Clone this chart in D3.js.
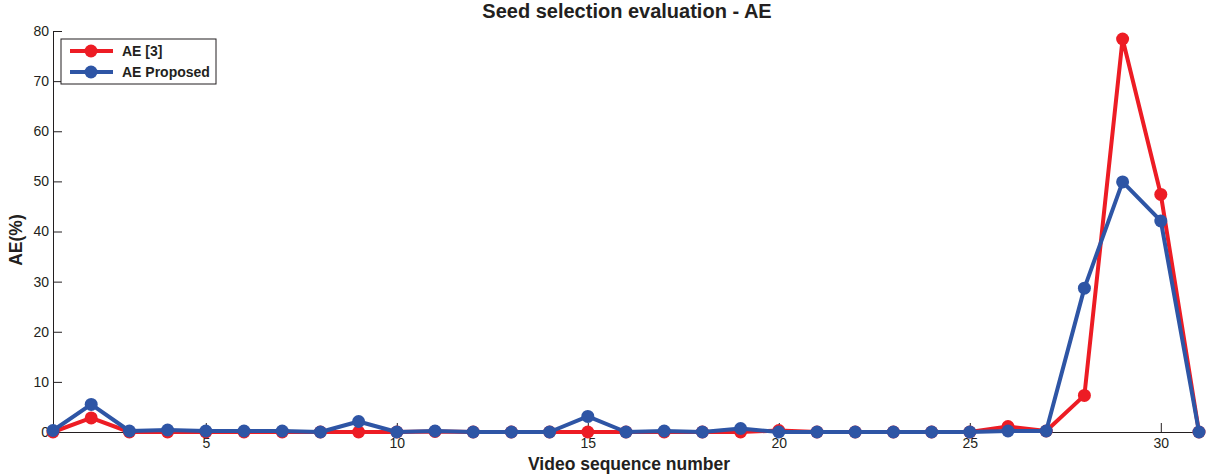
<!DOCTYPE html>
<html>
<head>
<meta charset="utf-8">
<script src="https://cdn.jsdelivr.net/npm/d3@7"></script>
<style>
  body { margin: 0; background: #fff; }
  svg { font-family: "Liberation Sans", Arial, sans-serif; }
  .axis text { font-size: 14px; fill: #231f20; }
  .axis path, .axis line { stroke: #231f20; }
</style>
</head>
<body>
<svg width="1215" height="475"></svg>
<script>
var seqNumbers = d3.range(1, 32);
var aeRef = [0, 2.8, 0, 0, 0, 0, 0, 0, 0, 0, 0.1, 0, 0, 0, 0, 0, 0, 0, 0, 0.3, 0, 0, 0, 0, 0, 1.1, 0.2, 7.3, 78.4, 47.4, 0];
var aeProposed = [0.3, 5.5, 0.2, 0.4, 0.2, 0.2, 0.2, 0, 2.1, 0, 0.2, 0, 0, 0, 3.1, 0, 0.2, 0, 0.7, 0, 0, 0, 0, 0, 0, 0.2, 0.2, 28.7, 49.9, 42.1, 0];
var xTicks = [5, 10, 15, 20, 25, 30];
var yTicks = [0, 10, 20, 30, 40, 50, 60, 70, 80];

var series = [
  {name: "AE [3]", values: aeRef, color: "#ed1c24"},
  {name: "AE Proposed", values: aeProposed, color: "#2e55a5"}
];

var svg = d3.select("svg"),
    margin = {top: 31, right: 16, bottom: 43, left: 53},
    width = 1215 - margin.left - margin.right,
    height = 475 - margin.top - margin.bottom;

var x = d3.scaleLinear().domain([1, 31]).range([0, width]);
var y = d3.scaleLinear().domain([0, 80]).range([height, 0]);

var g = svg.append("g")
    .attr("transform", "translate(" + margin.left + "," + margin.top + ")");

// x axis, ticks pointing inward
var xAxis = g.append("g")
    .attr("class", "axis")
    .attr("transform", "translate(0," + height + ")")
    .call(d3.axisBottom(x).tickValues(xTicks).tickSize(-9).tickPadding(4).tickSizeOuter(0));
xAxis.select(".domain").attr("stroke", "#808080");
xAxis.selectAll(".tick text").attr("y", 6);

var yAxis = g.append("g")
    .attr("class", "axis")
    .call(d3.axisLeft(y).tickValues(yTicks).tickSize(-9).tickSizeOuter(0));
yAxis.selectAll(".tick text").attr("x", -4);

var line = d3.line()
    .x(function(d, i) { return x(seqNumbers[i]); })
    .y(function(d) { return y(d); });

series.forEach(function(s) {
  var sg = g.append("g");
  sg.append("path")
      .datum(s.values)
      .attr("fill", "none")
      .attr("stroke", s.color)
      .attr("stroke-width", 4)
      .attr("stroke-linejoin", "round")
      .attr("d", line);
  sg.selectAll("circle")
      .data(s.values)
    .enter().append("circle")
      .attr("cx", function(d, i) { return x(seqNumbers[i]); })
      .attr("cy", function(d) { return y(d); })
      .attr("r", 6.5)
      .attr("fill", s.color);
});

// title and axis labels
svg.append("text")
    .attr("x", 627).attr("y", 18)
    .attr("text-anchor", "middle")
    .attr("font-size", 20).attr("font-weight", "bold").attr("fill", "#231f20")
    .text("Seed selection evaluation - AE");

svg.append("text")
    .attr("x", 629).attr("y", 470)
    .attr("text-anchor", "middle")
    .attr("font-size", 17.5).attr("font-weight", "bold").attr("fill", "#231f20")
    .text("Video sequence number");

svg.append("text")
    .attr("transform", "translate(22,240) rotate(-90)")
    .attr("text-anchor", "middle")
    .attr("font-size", 17.5).attr("font-weight", "bold").attr("fill", "#231f20")
    .text("AE(%)");

// legend
var legend = svg.append("g").attr("transform", "translate(61,39)");
legend.append("rect")
    .attr("width", 155).attr("height", 45)
    .attr("fill", "#fff").attr("stroke", "#231f20").attr("stroke-width", 1);
series.forEach(function(s, i) {
  var ly = 12 + i * 21;
  legend.append("line")
      .attr("x1", 9).attr("x2", 52).attr("y1", ly).attr("y2", ly)
      .attr("stroke", s.color).attr("stroke-width", 4);
  legend.append("circle")
      .attr("cx", 30).attr("cy", ly).attr("r", 6.5).attr("fill", s.color);
  legend.append("text")
      .attr("x", 61).attr("y", ly + 5)
      .attr("font-size", 14).attr("font-weight", "bold").attr("fill", "#231f20")
      .text(s.name);
});
</script>
</body>
</html>
